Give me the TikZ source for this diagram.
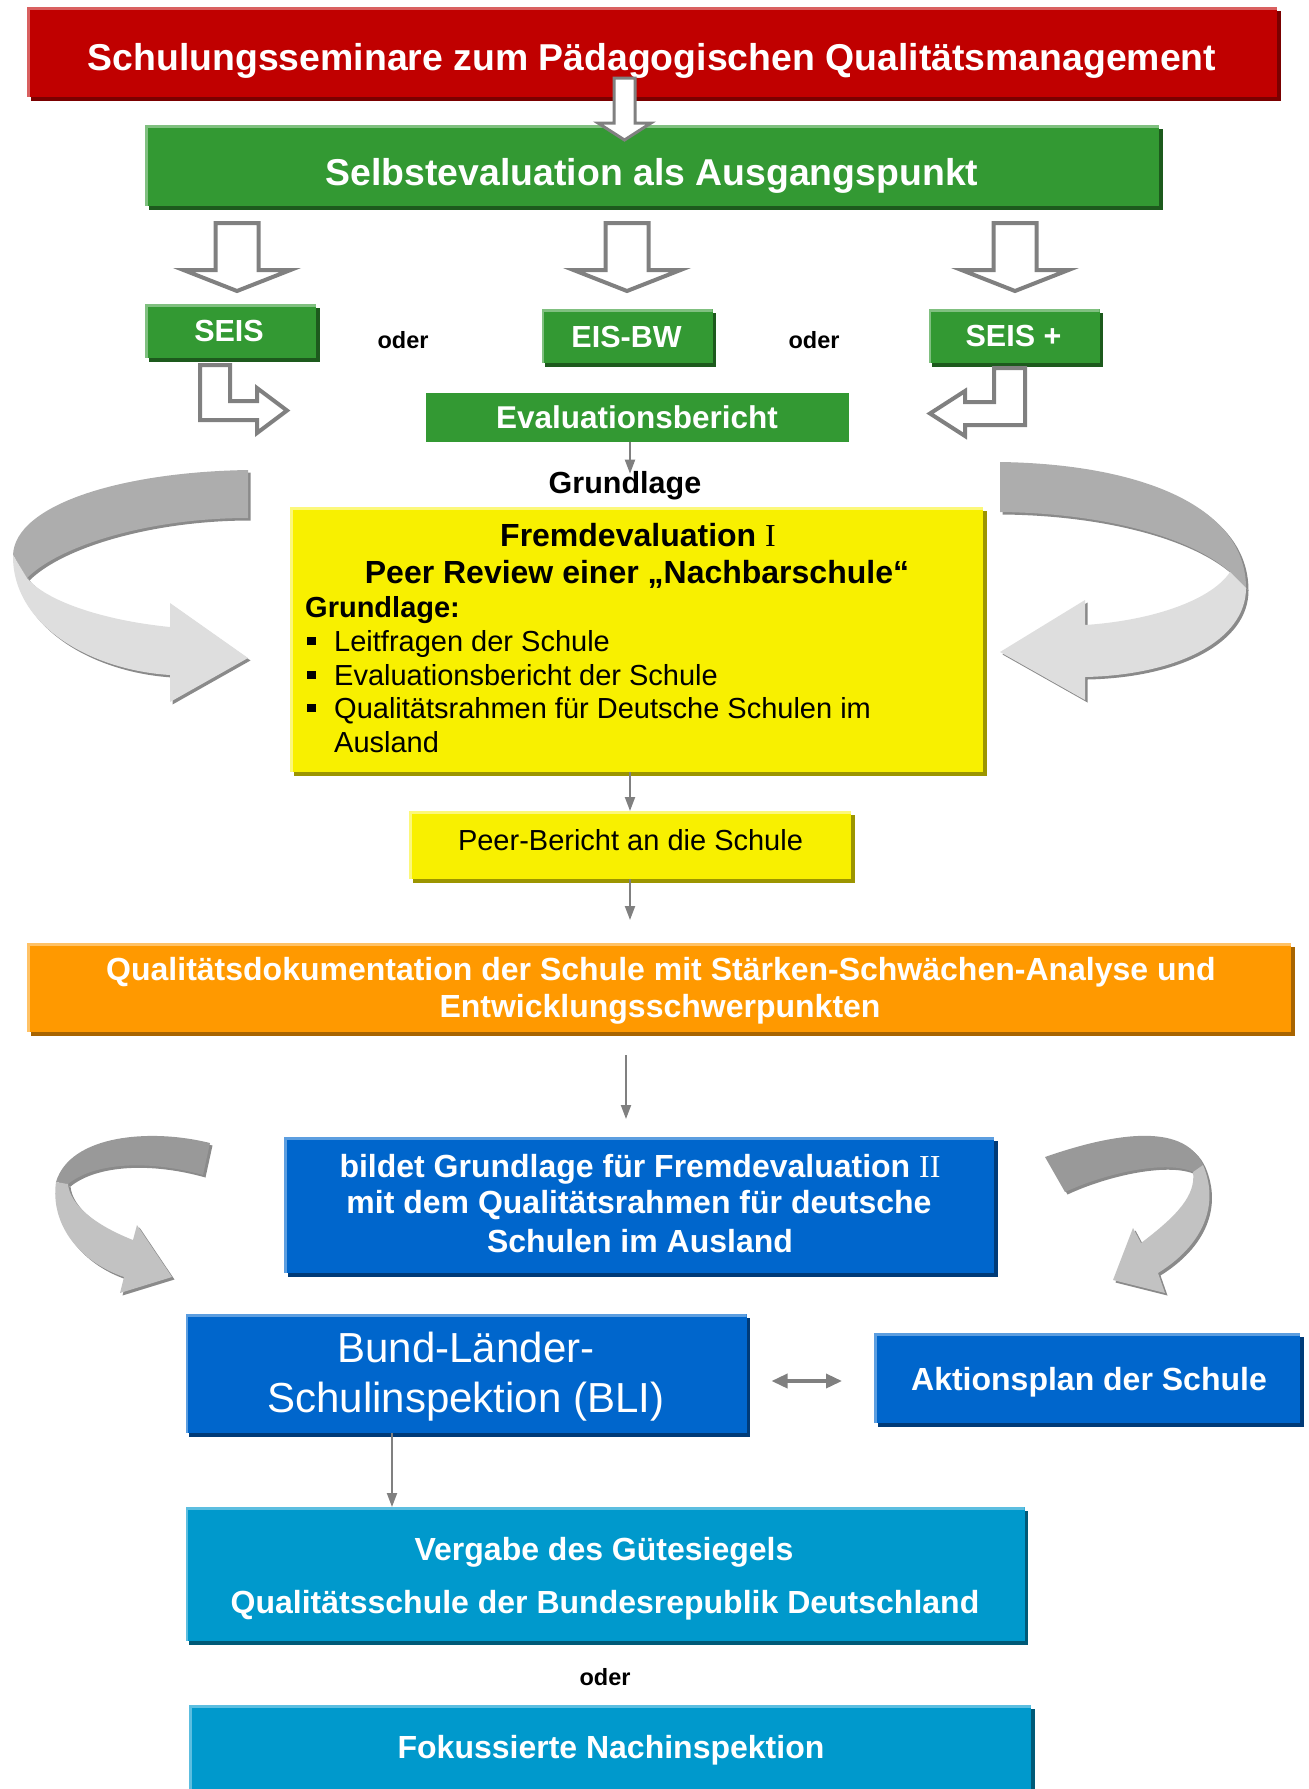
\documentclass[tikz,border=0pt]{standalone}
\usepackage{fontspec}
\setmainfont{Liberation Sans}
\newfontfamily\romfont{Liberation Serif}
\usetikzlibrary{arrows.meta,shadows}
\definecolor{cRed}{HTML}{C00000}
\definecolor{cRedS}{HTML}{7A0000}
\definecolor{cRedL}{HTML}{D96060}
\definecolor{cGreen}{HTML}{339933}
\definecolor{cGreenS}{HTML}{1D5A1D}
\definecolor{cGreenL}{HTML}{80C080}
\definecolor{cYel}{HTML}{F8F000}
\definecolor{cYelS}{HTML}{9C9500}
\definecolor{cYelL}{HTML}{FCF87A}
\definecolor{cOr}{HTML}{FF9900}
\definecolor{cOrS}{HTML}{A86400}
\definecolor{cOrL}{HTML}{FFC266}
\definecolor{cBlue}{HTML}{0066CC}
\definecolor{cBlueS}{HTML}{003B78}
\definecolor{cBlueL}{HTML}{5C9EE0}
\definecolor{cCyan}{HTML}{0099CC}
\definecolor{cCyanS}{HTML}{005A78}
\definecolor{cCyanL}{HTML}{5CBEE0}
\definecolor{cGray}{HTML}{808080}
\definecolor{ribDark}{HTML}{ADADAD}
\definecolor{ribLight}{HTML}{DEDEDE}
\definecolor{ribDarkB}{HTML}{999999}
\definecolor{ribLightB}{HTML}{C2C2C2}
\definecolor{ribShadow}{HTML}{8A8A8A}
\tikzset{
  pbox/.style n args={3}{inner sep=0pt, outer sep=0pt, fill=#1,
    general shadow={fill=#2, shadow xshift=3.5pt, shadow yshift=-3.5pt},
    path picture={
      \fill[#3] (path picture bounding box.north west) rectangle ([yshift=-2.5pt]path picture bounding box.north east);
      \fill[#3] (path picture bounding box.north west) rectangle ([xshift=2.5pt]path picture bounding box.south west);
    }},
  wb/.style={inner sep=0pt, anchor=base, text=white, font=\bfseries\fontsize{#1pt}{#1pt}\selectfont},
  wr/.style={inner sep=0pt, anchor=base, text=white, font=\fontsize{#1pt}{#1pt}\selectfont},
  kb/.style={inner sep=0pt, anchor=base, text=black, font=\bfseries\fontsize{#1pt}{#1pt}\selectfont},
  kr/.style={inner sep=0pt, anchor=base west, text=black, font=\fontsize{#1pt}{#1pt}\selectfont},
  conn/.style={draw=cGray, line width=2pt, -{Triangle[length=14pt,width=10pt]}},
  dconn/.style={draw=cGray, line width=3.5pt, {Triangle[length=16pt,width=14pt]}-{Triangle[length=16pt,width=14pt]}},
  hollow/.style={draw=cGray, line width=4pt, fill=white, line join=miter},
}
\begin{document}
\begin{tikzpicture}[x=1pt,y=-1pt]
\path[use as bounding box] (0,0) rectangle (1309,1789);
\clip (0,0) rectangle (1309,1789);

% ---------- boxes ----------
\node[pbox={cRed}{cRedS}{cRedL}, minimum width=1250pt, minimum height=90pt] (red) at (652,52) {};
\node[wb=37.4] (redt) at (652,70) {Schulungsseminare zum Pädagogischen Qualitätsmanagement};

\node[pbox={cGreen}{cGreenS}{cGreenL}, minimum width=1014pt, minimum height=81pt] (green) at (652,165.5) {};
\node[wb=37.4] (greent) at (652,185) {Selbstevaluation als Ausgangspunkt};

\draw[hollow, line width=3pt] (614,78) -- (635,78) -- (635,123) -- (651,123) -- (624.5,140) -- (598,123) -- (614,123) -- cycle;

\foreach \cx in {237,627,1015}{
  \draw[hollow] (\cx-21.5,223) -- (\cx+21.5,223) -- (\cx+21.5,270) -- (\cx+53.5,270) -- (\cx,291) -- (\cx-53.5,270) -- (\cx-21.5,270) -- cycle;
}

\node[pbox={cGreen}{cGreenS}{cGreenL}, minimum width=171pt, minimum height=54pt] (seis) at (230.5,331) {};
\node[wb=30.5] (seist) at (229,341) {SEIS};
\node[pbox={cGreen}{cGreenS}{cGreenL}, minimum width=171pt, minimum height=54pt] (eisbw) at (627,336) {};
\node[wb=30.5] (eisbwt) at (626.5,347) {EIS-BW};
\node[pbox={cGreen}{cGreenS}{cGreenL}, minimum width=171pt, minimum height=54pt] (seisp) at (1014,336) {};
\node[wb=30.5] (seispt) at (1013.5,346.5) {SEIS +};
\node[kb=23.5] (oder1) at (403,348) {oder};
\node[kb=23.5] (oder2) at (814,348) {oder};

\draw[hollow] (200,365) -- (230,365) -- (230,401) -- (257,401) -- (257,388) -- (287,410.5) -- (257,433) -- (257,420) -- (200,420) -- cycle;
\draw[hollow] (1025,368) -- (994,368) -- (994,402) -- (965,402) -- (965,391) -- (930,413.5) -- (965,436) -- (965,425) -- (1025,425) -- cycle;

\node[fill=cGreen, inner sep=0pt, minimum width=423pt, minimum height=49pt] (evb) at (637,417.5) {};
\node[wb=31.5] (evbt) at (637,428) {Evaluationsbericht};

\node[kb=30.5] (grl) at (625,493) {Grundlage};
\draw[conn] ([xshift=-7pt]evb.south) -- ([xshift=-7pt,yshift=-3pt]evb.south |- grl.north);

% ---------- big curved arrows ----------
\foreach \s/\cd/\cl in {2.5/ribShadow/ribShadow, 0/ribDark/ribLight}{
  \fill[\cd, shift={(\s,\s)}] (248,470) .. controls (120,472) and (15,505) .. (13,555) -- (27,578) .. controls (60,545) and (150,518) .. (248,518) -- cycle;
  \fill[\cl, shift={(\s,\s)}] (13,555) .. controls (12,625) and (90,670) .. (170,675) -- (170,702) -- (248,658) -- (170,603) -- (170,627) .. controls (100,620) and (45,600) .. (27,578) -- cycle;
  \fill[\cd, shift={(\s,\s)}] (1000,462) .. controls (1138,464) and (1246,505) .. (1246,588) -- (1230,572) .. controls (1188,535) and (1098,513) .. (1000,512) -- cycle;
  \fill[\cl, shift={(\s,\s)}] (1246,588) .. controls (1246,640) and (1178,675) .. (1085,677) -- (1085,700) -- (1000,652) -- (1085,600) -- (1085,625) .. controls (1158,620) and (1213,598) .. (1230,572) -- cycle;
}

% ---------- yellow ----------
\node[pbox={cYel}{cYelS}{cYelL}, minimum width=693pt, minimum height=265pt] (fy) at (636.5,639.5) {};
\node[kb=32] (fyt1) at (638,546) {Fremdevaluation {\romfont\mdseries I}};
\node[kb=32] (fyt2) at (637,583) {Peer Review einer „Nachbarschule“};
\node[kb=29, anchor=base west] (fyt3) at (305,617) {Grundlage:};
\foreach \yy/\tt [count=\i] in {651/Leitfragen der Schule, 685/Evaluationsbericht der Schule, 718/Qualitätsrahmen für Deutsche Schulen im}{
  \node[kr=29] (bul\i) at (307,\yy) {\rule[6pt]{8.5pt}{8.5pt}};
  \node[kr=29] (item\i) at (334,\yy) {\tt};
}
\node[kr=29] (item4) at (334,752) {Ausland};

\node[pbox={cYel}{cYelS}{cYelL}, minimum width=442pt, minimum height=68pt] (peer) at (630,845) {};
\node[inner sep=0pt, anchor=base, font=\fontsize{29pt}{29pt}\selectfont] (peert) at (630.5,850) {Peer-Bericht an die Schule};
\draw[conn] (fy.south -| peer.north) -- (peer.north);
\coordinate (c1) at (630,920);
\draw[conn] (peer.south) -- (c1);

% ---------- orange ----------
\node[pbox={cOr}{cOrS}{cOrL}, minimum width=1264pt, minimum height=89pt] (org) at (659,987.5) {};
\node[wb=32] (orgt1) at (661,980) {Qualitätsdokumentation der Schule mit Stärken-Schwächen-Analyse und};
\node[wb=32] (orgt2) at (660,1017) {Entwicklungsschwerpunkten};
\coordinate (c2a) at (626,1055);
\coordinate (c2b) at (626,1119);
\draw[conn] (c2a) -- (c2b);

% ---------- blue ----------
\node[pbox={cBlue}{cBlueS}{cBlueL}, minimum width=710pt, minimum height=136pt] (bl1) at (639,1205) {};
\node[wb=32] (bl1t1) at (640,1177) {bildet Grundlage für Fremdevaluation {\romfont\mdseries II}};
\node[wb=32] (bl1t2) at (639,1213) {mit dem Qualitätsrahmen für deutsche};
\node[wb=32] (bl1t3) at (640,1252) {Schulen im Ausland};

% ---------- small curved arrows ----------
\foreach \s/\cd/\cl in {2.5/ribShadow/ribShadow, 0/ribDarkB/ribLightB}{
  \fill[\cd, shift={(\s,\s)}] (210,1143) .. controls (150,1128) and (70,1135) .. (56,1182) -- (68,1184) .. controls (95,1162) and (150,1160) .. (203,1175) -- cycle;
  \fill[\cl, shift={(\s,\s)}] (56,1182) .. controls (50,1225) and (80,1262) .. (124,1277) -- (120,1293) -- (172,1277) -- (137,1225) -- (133,1240) .. controls (95,1225) and (70,1205) .. (68,1184) -- cycle;
  \fill[\cd, shift={(\s,\s)}] (1045,1157) .. controls (1108,1135) and (1183,1120) .. (1203,1165) -- (1193,1172) .. controls (1168,1160) and (1108,1172) .. (1065,1192) -- cycle;
  \fill[\cl, shift={(\s,\s)}] (1203,1165) .. controls (1220,1205) and (1203,1245) .. (1158,1273) -- (1165,1293) -- (1113,1280) -- (1133,1228) -- (1141,1243) .. controls (1178,1215) and (1196,1195) .. (1193,1172) -- cycle;
}

\node[pbox={cBlue}{cBlueS}{cBlueL}, minimum width=561pt, minimum height=119pt] (bli) at (466,1373.5) {};
\node[wr=42] (blit1) at (466,1362) {Bund-Länder-};
\node[wr=42] (blit2) at (466,1412) {Schulinspektion (BLI)};

\node[pbox={cBlue}{cBlueS}{cBlueL}, minimum width=426pt, minimum height=90pt] (akt) at (1087,1378) {};
\node[wb=32] (aktt) at (1089,1390) {Aktionsplan der Schule};

\draw[dconn, shorten <=25pt, shorten >=32pt] ([yshift=-7.5pt]bli.east) -- ([yshift=-7.5pt]bli.east -| akt.west);

% ---------- cyan ----------
\node[pbox={cCyan}{cCyanS}{cCyanL}, minimum width=839pt, minimum height=134pt] (ver) at (605,1574) {};
\node[wb=32] (vert1) at (604,1560) {Vergabe des Gütesiegels};
\node[wb=32] (vert2) at (605,1613) {Qualitätsschule der Bundesrepublik Deutschland};
\draw[conn] ([xshift=-74pt]bli.south) -- ([xshift=-74pt]bli.south |- ver.north);

\node[kb=23.5] (oder3) at (605,1685) {oder};

\node[pbox={cCyan}{cCyanS}{cCyanL}, minimum width=842pt, minimum height=90pt] (fok) at (610,1750) {};
\node[wb=32] (fokt) at (611,1758) {Fokussierte Nachinspektion};
\end{tikzpicture}
\end{document}
